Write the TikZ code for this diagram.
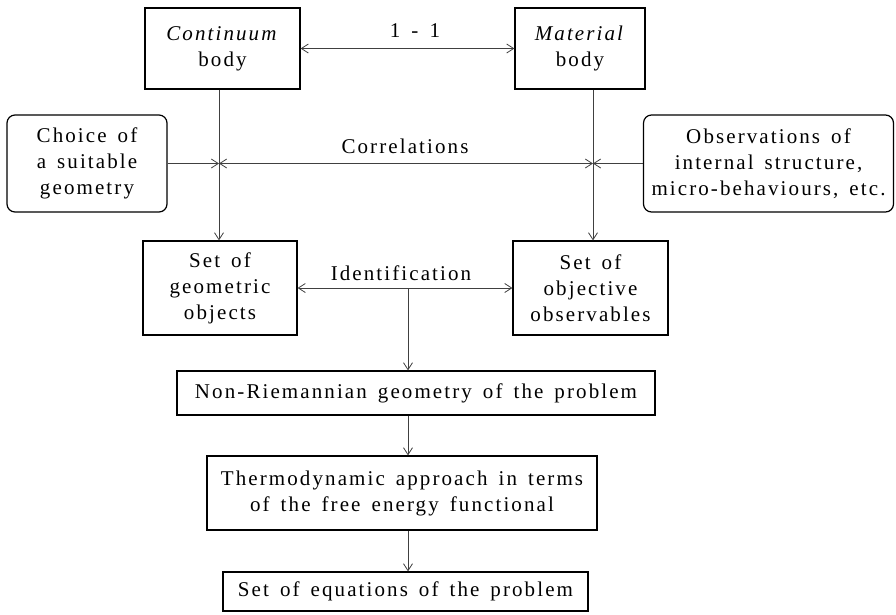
\documentclass[tikz,border=0pt]{standalone}
\usepackage{fontspec}
\setmainfont{Liberation Serif}[LetterSpace=10,WordSpace=1.5]
\usetikzlibrary{arrows.meta}

\begin{document}
\begin{tikzpicture}[x=1pt,y=-1pt,
		font=\fontsize{21}{26}\selectfont,
		box/.style={draw,line width=1.2pt,inner sep=0pt,align=center},
		link/.style={draw=black!75,line width=0.8pt},
		tip/.style={-{Straight Barb[length=7pt,width=9pt]}},
		both/.style={{Straight Barb[length=7pt,width=9pt]}-{Straight Barb[length=7pt,width=9pt]}}]
	\useasboundingbox (0,0) rectangle (896,614);
	\node[box,minimum width=155,minimum height=81] (cont) at (222.5,48.5) {\textit{Continuum}\\body};
	\node[box,minimum width=130,minimum height=81] (mat) at (580,48.5) {\textit{Material}\\body};
	\node[box,rounded corners=8,minimum width=160,minimum height=97] (choice) at (87,163.5) {Choice of\\a suitable\\geometry};
	\node[box,rounded corners=8,minimum width=250,minimum height=97] (obs) at (768.5,163.5) {Observations of\\internal structure,\\micro-behaviours, etc.};
	\node[box,minimum width=154,minimum height=94] (geo) at (220,288) {Set of\\geometric\\objects};
	\node[box,minimum width=155,minimum height=94] (obsv) at (590.5,288) {Set of\\objective\\observables};
	\node[box,minimum width=478,minimum height=44] (nonr) at (416,393) {Non-Riemannian geometry of the problem};
	\node[box,minimum width=390,minimum height=74] (thermo) at (402,493) {Thermodynamic approach in terms\\of the free energy functional};
	\node[box,minimum width=365,minimum height=39] (eqs) at (405.5,591.5) {Set of equations of the problem};
	\node (one) at (415,31) {1 - 1};
	\node (corr) at (405,146) {Correlations};
	\node (ident) at (401,273) {Identification};
	\coordinate (lx) at (219,0);
	\coordinate (rx) at (593,0);
	\coordinate (mx) at (408,0);
	\draw[link,both] (cont) -- (mat);
	\draw[link,tip] (cont.south -| lx) -- (geo.north -| lx);
	\draw[link,tip] (mat.south -| rx) -- (obsv.north -| rx);
	\draw[link,tip] (choice.east) -- (choice.east -| lx);
	\draw[link,tip] (obs.west) -- (obs.west -| rx);
	\draw[link,both] (choice.east -| lx) -- (choice.east -| rx);
	\draw[link,both] (geo) -- (obsv);
	\draw[link,tip] (geo.east -| mx) -- (nonr.north -| mx);
	\draw[link,tip] (nonr.south -| mx) -- (thermo.north -| mx);
	\draw[link,tip] (thermo.south -| mx) -- (eqs.north -| mx);
\end{tikzpicture}
\end{document}
